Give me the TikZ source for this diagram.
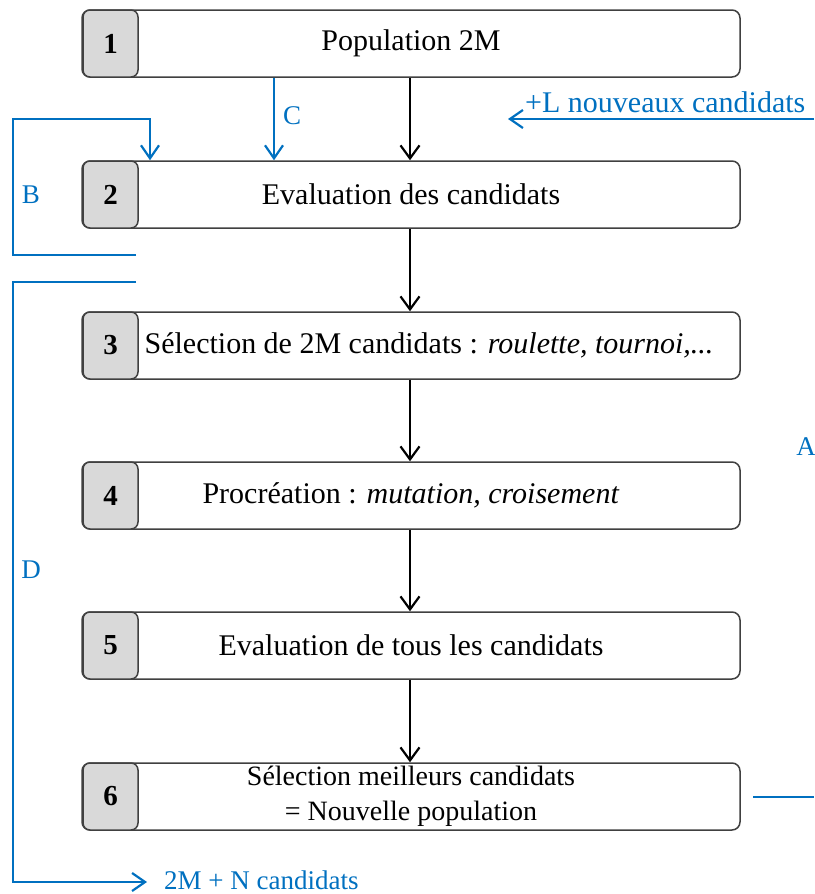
\documentclass[tikz,border=0pt]{standalone}
\usepackage{fontspec}
\setmainfont{Liberation Serif}
\usetikzlibrary{arrows.meta}
\definecolor{myblue}{HTML}{0070C0}
\definecolor{boxgray}{HTML}{D9D9D9}
\definecolor{edgegray}{HTML}{404040}
\begin{document}
\begin{tikzpicture}[x=1pt,y=-1pt,
  mainbox/.style={draw=edgegray,line width=1.5pt,rounded corners=8pt,fill=white,
    minimum width=658pt,minimum height=67pt,inner sep=0pt,
    font=\fontsize{30}{35}\selectfont,align=center},
  numbox/.style={draw=edgegray,line width=1.5pt,rounded corners=7pt,fill=boxgray,
    minimum width=55pt,minimum height=67pt,inner sep=0pt,
    font=\fontsize{29}{30}\selectfont\bfseries},
  blk/.style={draw=black,line width=2.2pt,-{Straight Barb[length=13pt,width=19pt,line width=2.2pt]}},
  barr/.style={draw=myblue,line width=2.2pt,-{Straight Barb[length=13pt,width=18pt,line width=2.2pt]}},
  bline/.style={draw=myblue,line width=2.2pt},
  blab/.style={text=myblue,font=\fontsize{27}{30}\selectfont,inner sep=0pt}]
\useasboundingbox (0,0) rectangle (814,894);

% main boxes
\node[mainbox] (b1) at (411,43.5) {Population 2M};
\node[mainbox] (b2) at (411,194.5) {Evaluation des candidats};
\node[mainbox] (b3) at (411,345.5) {\hspace*{36pt}Sélection de 2M candidats : \textit{roulette, tournoi,...}};
\node[mainbox] (b4) at (411,495.5) {Procréation : \textit{mutation, croisement}};
\node[mainbox] (b5) at (411,645.5) {Evaluation de tous les candidats};
\node[mainbox,font=\fontsize{28}{35}\selectfont] (b6) at (411,796.5) {Sélection meilleurs candidats\\= Nouvelle population};

% number boxes
\node[numbox] (n1) at (110.5,43.5) {1};
\node[numbox] (n2) at (110.5,194.5) {2};
\node[numbox] (n3) at (110.5,345.5) {3};
\node[numbox] (n4) at (110.5,495.5) {4};
\node[numbox] (n5) at (110.5,645.5) {5};
\node[numbox] (n6) at (110.5,796.5) {6};

% black flow arrows
\coordinate (ax) at (410,0);
\draw[blk] (b1.south -| ax) -- (b2.north -| ax);
\draw[blk] (b2.south -| ax) -- (b3.north -| ax);
\draw[blk] (b3.south -| ax) -- (b4.north -| ax);
\draw[blk] (b4.south -| ax) -- (b5.north -| ax);
\draw[blk] (b5.south -| ax) -- (b6.north -| ax);

% C arrow
\coordinate (cx) at (274,0);
\draw[barr] (b1.south -| cx) -- (b2.north -| cx);
\node[blab,anchor=west] (lc) at (283,116) {C};

% B loop
\coordinate (bend) at (136,255);
\coordinate (bx) at (150,0);
\draw[barr] (bend) -- (13,255) -- (13,119) -- (150,119) -- (b2.north -| bx);
\node[blab] (lb) at (31,195) {B};

% D line
\coordinate (dstart) at (136,282);
\coordinate (dend) at (147,882);
\draw[barr] (dstart) -- (13,282) -- (13,882) -- (dend);
\node[blab] (ld) at (31,570) {D};
\node[blab,anchor=base west] (lout) at (164,889) {2M + N candidats};

% +L nouveaux candidats
\coordinate (lstart) at (814,119);
\coordinate (lend) at (508,119);
\draw[barr] (lstart) -- (lend);
\node[blab,anchor=base west,font=\fontsize{30}{30}\selectfont] (lnew) at (525,112) {+L nouveaux candidats};

% A label and right line
\node[blab] (la) at (806,447) {A};
\coordinate (r1) at (753,797);
\coordinate (r2) at (814,797);
\draw[bline] (r1) -- (r2);
\end{tikzpicture}
\end{document}
